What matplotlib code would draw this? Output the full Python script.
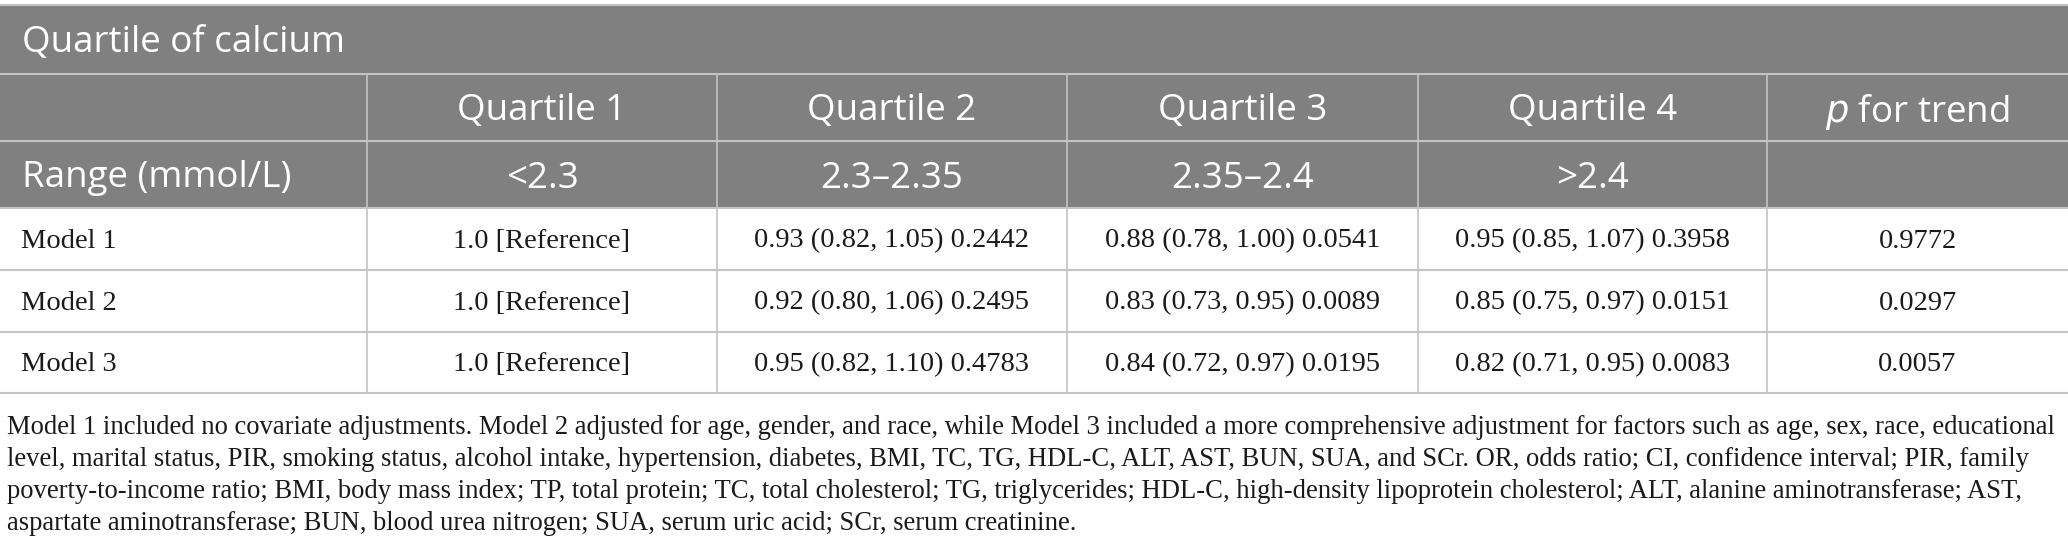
import matplotlib.pyplot as plt
from matplotlib.patches import Rectangle

# table content
title = "Quartile of calcium"
col_heads = ["", "Quartile 1", "Quartile 2", "Quartile 3", "Quartile 4", "$p$ for trend"]
range_label = "Range (mmol/L)"
ranges = ["<2.3", "2.3\u20132.35", "2.35\u20132.4", ">2.4", ""]
models = ["Model 1", "Model 2", "Model 3"]
q1 = ["1.0 [Reference]", "1.0 [Reference]", "1.0 [Reference]"]
q2 = ["0.93 (0.82, 1.05) 0.2442", "0.92 (0.80, 1.06) 0.2495", "0.95 (0.82, 1.10) 0.4783"]
q3 = ["0.88 (0.78, 1.00) 0.0541", "0.83 (0.73, 0.95) 0.0089", "0.84 (0.72, 0.97) 0.0195"]
q4 = ["0.95 (0.85, 1.07) 0.3958", "0.85 (0.75, 0.97) 0.0151", "0.82 (0.71, 0.95) 0.0083"]
p_trend = ["0.9772", "0.0297", "0.0057"]
footnote = [
    "Model 1 included no covariate adjustments. Model 2 adjusted for age, gender, and race, while Model 3 included a more comprehensive adjustment for factors such as age, sex, race, educational",
    "level, marital status, PIR, smoking status, alcohol intake, hypertension, diabetes, BMI, TC, TG, HDL-C, ALT, AST, BUN, SUA, and SCr. OR, odds ratio; CI, confidence interval; PIR, family",
    "poverty-to-income ratio; BMI, body mass index; TP, total protein; TC, total cholesterol; TG, triglycerides; HDL-C, high-density lipoprotein cholesterol; ALT, alanine aminotransferase; AST,",
    "aspartate aminotransferase; BUN, blood urea nitrogen; SUA, serum uric acid; SCr, serum creatinine.",
]

W, H = 2068, 558
fig = plt.figure(figsize=(W / 100, H / 100), dpi=100)
ax = fig.add_axes([0, 0, 1, 1])
ax.set_xlim(0, W)
ax.set_ylim(H, 0)
ax.axis("off")

col_x = [0, 367, 717, 1067, 1418, 1767, 2068]
row_y = [5, 74, 141, 208, 270, 332, 393]
gray = "#808080"
line = "#c4c4c4"
sans = "Open Sans"
serif = "Liberation Serif"
ink = "#1a1a1a"

# gray header block
ax.add_patch(Rectangle((0, row_y[0]), W, row_y[3] - row_y[0], color=gray, lw=0))

# grid lines
for y in row_y:
    ax.plot([0, W], [y, y], color=line, lw=1.5)
for x in col_x[1:-1]:
    ax.plot([x, x], [row_y[1], row_y[-1]], color=line, lw=1.2)

hsize = 26.5
dy = 4  # header text sits a bit low in its row
ax.text(22, (row_y[0] + row_y[1]) / 2 + dy, title, color="white", fontsize=hsize,
        family=sans, va="center", ha="left")
for i, h in enumerate(col_heads[1:], start=1):
    cx = (col_x[i] + col_x[i + 1]) / 2
    ax.text(cx, (row_y[1] + row_y[2]) / 2 + dy, h, color="white", fontsize=hsize,
            family=sans, va="center", ha="center")
ax.text(22, (row_y[2] + row_y[3]) / 2 + dy, range_label, color="white", fontsize=hsize,
        family=sans, va="center", ha="left")
for i, r in enumerate(ranges, start=1):
    cx = (col_x[i] + col_x[i + 1]) / 2
    ax.text(cx, (row_y[2] + row_y[3]) / 2 + dy, r, color="white", fontsize=hsize,
            family=sans, va="center", ha="center")

bsize = 20.5
cols = [q1, q2, q3, q4, p_trend]
for j, m in enumerate(models):
    cy = (row_y[3 + j] + row_y[4 + j]) / 2 + 2
    ax.text(21, cy, m, fontsize=bsize, family=serif, va="center", ha="left", color=ink)
    for i, c in enumerate(cols, start=1):
        cx = (col_x[i] + col_x[i + 1]) / 2
        ax.text(cx, cy, c[j], fontsize=bsize, family=serif, va="center", ha="center",
                color=ink)

fy = [428, 459, 491, 523]
for y, t in zip(fy, footnote):
    ax.text(7, y, t, fontsize=19.2, family=serif, va="center", ha="left", color=ink)

fig.savefig("out.png", dpi=100)
